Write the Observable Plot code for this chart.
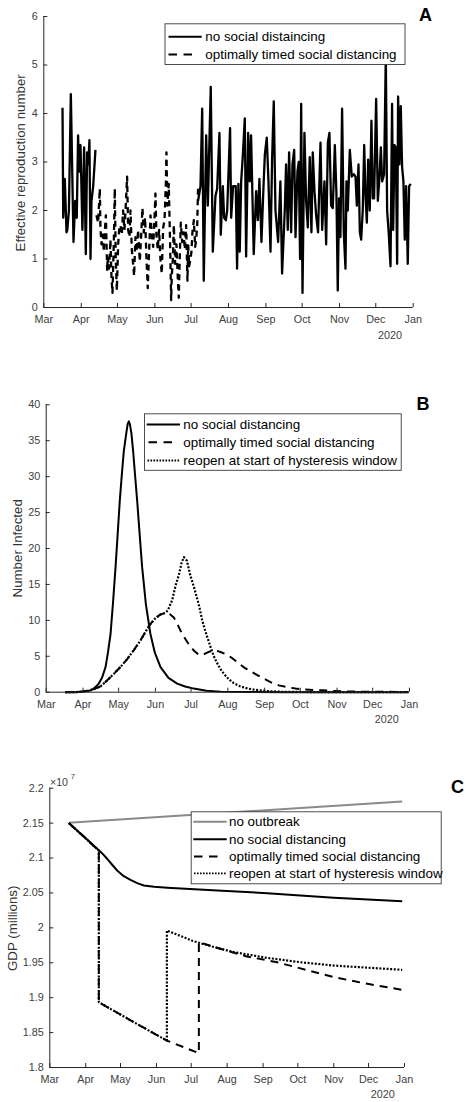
<!DOCTYPE html>
<html><head><meta charset="utf-8">
<script src="https://cdn.jsdelivr.net/npm/d3@7"></script>
<script src="https://cdn.jsdelivr.net/npm/@observablehq/plot@0.6"></script>
<style>
body{margin:0;background:#fff;}
#root{position:relative;width:466px;height:1102px;overflow:hidden;font-family:"Liberation Sans",Arial,sans-serif;background:#fff;}
#root svg{position:absolute;left:0;}
</style></head><body><div id="root"></div>
<script>
// ---------- shared axis data ----------
const monthLabels = ["Mar","Apr","May","Jun","Jul","Aug","Sep","Oct","Nov","Dec","Jan"];
const yearLabel = "2020";

// ---------- Panel A: effective reproduction number (day since Mar 1, value) ----------
const reTicks = [0,1,2,3,4,5,6];
const reNoSDEarly = [[15.5,4.12],[16.1,1.85],[17.4,2.65],[18.8,1.55],[19.5,1.6],[20.8,2.0],[22.4,4.4],[24.6,1.35],[26,2.2],[27.3,1.85],[28.4,3.55],[29.3,2.8],[30.4,3.35],[32,1.6],[33.4,3.3],[34.8,1.1],[35.9,3.2],[36.9,2.95],[37.8,3.45],[38.7,1.0],[39.5,2.2],[40.9,2.5],[42.8,3.25]];
const reNoSDLate = [[127.8,2.2],[129.8,2.5],[131.2,4.1],[132.5,0.55],[134.5,3.55],[135.9,2.1],[138.3,4.55],[140.0,1.15],[142.2,2.3],[143.6,2.45],[145.5,3.6],[146.6,1.5],[148.3,2.5],[149.4,1.85],[150.8,1.8],[151.9,2.0],[154.3,3.7],[155.2,1.85],[156.8,2.5],[157.9,2.5],[159.0,2.5],[160.1,0.8],[161.2,2.55],[162.3,1.15],[163.5,2.6],[164.8,3.1],[166.5,3.9],[167.6,1.05],[169.3,3.6],[170.6,2.6],[171.7,3.55],[173.9,1.1],[175.9,2.4],[177.3,1.8],[178.6,2.65],[180.3,1.35],[182.0,2.5],[183.1,3.15],[184.7,3.5],[186.1,2.6],[187.8,1.15],[189.1,3.05],[190.5,4.25],[191.9,2.0],[194.1,1.35],[196.0,2.6],[197.4,0.7],[199.6,2.0],[200.7,2.95],[202.1,1.6],[203.2,3.2],[204.9,1.55],[206.0,2.95],[207.4,3.25],[208.5,1.45],[210.1,2.8],[211.2,3.0],[212.3,1.0],[213.2,4.2],[214.3,0.3],[215.9,3.6],[217.3,2.2],[218.7,1.65],[220.3,3.1],[221.7,1.55],[222.8,3.2],[224.2,2.4],[225.6,1.9],[227.2,1.55],[229.2,3.4],[230.6,1.6],[232.5,2.6],[233.9,1.3],[235.3,3.4],[236.6,3.6],[238.0,2.1],[239.4,2.05],[241.1,3.35],[242.4,2.35],[243.5,0.35],[244.6,2.25],[245.7,1.45],[247.1,4.1],[248.5,1.55],[249.9,0.8],[250.7,2.6],[251.8,2.0],[253.5,3.25],[255.1,2.7],[256.8,2.75],[258.2,2.7],[259.3,2.1],[260.7,2.95],[261.8,1.55],[262.9,1.4],[264.2,2.0],[265.4,3.35],[266.5,2.3],[267.6,1.75],[268.7,3.05],[270.0,2.0],[271.4,3.85],[272.5,2.25],[273.6,2.25],[275.3,4.3],[276.7,2.2],[278.1,2.7],[279.2,3.3],[280.3,2.6],[281.9,2.75],[283.3,5.2],[284.4,2.0],[285.8,1.5],[287.2,0.85],[288.5,4.2],[289.4,1.6],[290.5,3.35],[291.6,3.3],[292.7,0.9],[293.5,4.35],[294.6,2.95],[295.7,4.15],[296.8,2.9],[297.9,2.6],[299.0,1.4],[300.1,2.5],[301.5,0.9],[302.6,2.5],[304.0,2.55]];
const reOptimal = [[43.6,1.9],[45.0,1.75],[46.4,2.45],[46.9,1.65],[47.8,1.3],[48.9,1.5],[49.7,1.15],[50.5,1.55],[51.4,1.9],[52.5,0.75],[53.0,1.05],[54.1,0.8],[55.2,1.4],[56.1,0.6],[56.9,0.3],[58.0,1.35],[58.8,2.45],[59.6,1.0],[60.5,0.35],[61.6,1.3],[62.4,1.6],[63.5,1.7],[64.6,1.5],[65.7,2.0],[66.8,1.6],[67.9,2.1],[69.0,2.7],[69.9,1.6],[71.0,1.45],[71.8,2.0],[72.9,1.2],[74.0,0.9],[74.8,0.65],[75.9,1.45],[77.0,1.15],[78.1,1.6],[79.5,0.95],[80.6,1.45],[81.7,2.05],[82.8,1.55],[83.9,1.85],[85.0,1.05],[86.1,0.4],[87.3,1.2],[88.4,1.9],[89.5,1.5],[90.6,1.25],[91.7,1.85],[92.5,2.35],[93.3,1.5],[94.4,1.2],[95.5,1.6],[96.6,1.0],[97.7,0.7],[98.9,1.65],[100.0,1.8],[101.1,2.55],[101.6,3.2],[102.4,2.1],[103.5,2.55],[104.6,1.35],[105.5,0.15],[106.0,0.65],[106.9,1.0],[107.7,1.7],[108.8,0.9],[109.9,1.3],[111.0,0.6],[111.8,0.2],[112.7,1.1],[113.5,1.75],[114.6,1.35],[115.7,1.55],[116.8,1.2],[117.9,1.7],[119.0,0.55],[119.6,1.3],[120.4,0.85],[121.5,1.0],[122.3,1.15],[123.1,1.55],[124.3,1.8],[125.4,1.25],[126.2,1.4],[127.1,1.7],[127.8,2.5]];

// ---------- Panel B: number infected ----------
const infTicks = [0,5,10,15,20,25,30,35,40];
const infNoSD = [[16,0],[25,0.01],[30,0.05],[34,0.15],[37.3,0.25],[40,0.5],[42,0.8],[44.3,1.2],[47,2.0],[50,3.5],[52,5.5],[54.2,8.1],[56.3,12.5],[58.4,17.4],[60.2,22],[62,26.7],[63.8,30.5],[65.4,33.6],[67.4,36],[68.6,37.3],[69.6,37.7],[70.6,37.2],[71.8,36],[73.2,33.6],[74.8,30.3],[76.6,26.7],[78.7,22],[80.8,17.4],[84,12.2],[87.8,8.1],[91.5,5.5],[96.3,3.5],[103,2.0],[110.3,1.2],[117,0.8],[124.3,0.5],[135,0.2],[146.8,0.08],[170,0.02],[200,0.005],[305,0]];
const infOptimal = [[16,0],[25,0.02],[30,0.08],[35,0.2],[40,0.42],[45.7,0.8],[51,1.6],[57,2.56],[62.5,3.5],[68.2,4.6],[74,5.9],[79.4,7.2],[84,8.5],[87.8,9.5],[92,10.3],[96,10.8],[100.5,11.05],[104,10.9],[107.5,10.4],[111,9.3],[114.5,8.1],[118,7.2],[121.5,6.3],[125,5.7],[128,5.3],[130.5,5.15],[133,5.3],[136,5.55],[139.8,5.8],[143,5.8],[146.8,5.6],[152.5,5.2],[157,4.7],[160.9,4.2],[167,3.4],[174.9,2.65],[182,2.0],[188.9,1.4],[196,0.95],[203,0.7],[210,0.5],[217,0.4],[225,0.3],[232.5,0.27],[240,0.18],[250,0.12],[265,0.08],[285,0.05],[305,0.03]];
const infReopen = [[16,0],[25,0.02],[30,0.08],[35,0.2],[40,0.42],[45.7,0.8],[51,1.6],[57,2.56],[62.5,3.5],[68.2,4.6],[74,5.9],[79.4,7.2],[84,8.5],[87.8,9.5],[92,10.3],[96,10.8],[100.5,11.05],[102.5,11.4],[104,12.0],[106.1,12.8],[108.9,14.8],[111.7,16.3],[114,18.0],[116,18.8],[118.5,18.3],[121.5,16.2],[124.5,14.6],[127.2,13],[129.5,11.5],[131.4,10],[133.5,8.8],[135.6,7.7],[138.4,6.3],[141.2,5.0],[143.5,4.2],[146.8,3.2],[150,2.5],[153.8,1.8],[158,1.25],[163.6,0.8],[170,0.5],[175,0.35],[186,0.15],[200,0.05],[230,0.01],[305,0]];

// ---------- Panel C: GDP (millions, in units of 1e7) ----------
const gdpTicks = [1.8,1.85,1.9,1.95,2,2.05,2.1,2.15,2.2];
const gdpTickLabels = ["1.8","1.85","1.9","1.95","2","2.05","2.1","2.15","2.2"];
const gdpNoOutbreak = [[16.4,2.1504],[304,2.181]];
const gdpNoSD = [[16.4,2.150],[30,2.1296],[40.9,2.1132],[45,2.107],[49.5,2.0989],[54,2.09],[58.1,2.0821],[63.8,2.074],[69.6,2.0688],[75.4,2.064],[81.1,2.0607],[90,2.0588],[101.3,2.0574],[144.4,2.0535],[187.5,2.0496],[245,2.043],[304,2.0382]];
const gdpOptimal = [[16.4,2.150],[30,2.1296],[42.3,2.1105],[42.3,1.8935],[70,1.8672],[101,1.8385],[128.6,1.8205],[128.6,1.9795],[144,1.9715],[170,1.959],[196,1.9508],[245,1.9294],[274,1.9198],[304,1.9112]];
const gdpReopen = [[16.4,2.150],[30,2.1296],[42.3,2.1105],[42.3,1.8935],[70,1.8672],[101,1.8385],[101,1.9962],[108,1.9915],[115.6,1.9866],[123,1.9815],[131.5,1.9772],[147.3,1.970],[158.8,1.9652],[187.5,1.957],[216,1.9508],[245,1.946],[304,1.9399]];

// ---------- helpers ----------
const DAY = 864e5, T0 = Date.UTC(2020, 2, 1);
const toDate = d => new Date(T0 + d * DAY);
const xDomain = [new Date(T0), new Date(Date.UTC(2021, 0, 1))];
const monthTicks = d3.utcMonth.range(new Date(T0), new Date(Date.UTC(2021, 0, 2)));
const rows = (pairs, seg = 0) => pairs.map(([d, v]) => ({date: toDate(d), v, seg}));
const FONT = '"Liberation Sans", Arial, sans-serif';
const TICKC = "#404040", AXC = "#262626";
const root = document.getElementById("root");

function panel({top, height, mt, mb, ml, mr, yDomain, yTicks, yLabels, series}) {
  const plotH = height - mt - mb, plotW = 466 - ml - mr;
  const svg = Plot.plot({
    width: 466, height, marginTop: mt, marginBottom: mb, marginLeft: ml, marginRight: mr,
    style: {fontFamily: FONT, fontSize: "10.8px", background: "transparent", overflow: "visible"},
    x: {type: "utc", domain: xDomain, label: null},
    y: {domain: yDomain, label: null},
    marks: [
      ...series.map(s => Plot.line(s.data, {x: "date", y: "v", z: "seg", stroke: s.stroke, strokeWidth: s.width,
        strokeDasharray: s.dash, strokeLinecap: s.cap || "butt", strokeLinejoin: "round", curve: "linear"})),
      Plot.ruleX([xDomain[0]], {stroke: AXC, strokeWidth: 1}),
      Plot.ruleY([yDomain[0]], {stroke: AXC, strokeWidth: 1}),
      Plot.tickX(monthTicks, {x: d => d, insetTop: plotH - 4, stroke: AXC}),
      Plot.tickY(yTicks, {y: d => d, insetRight: plotW - 4, stroke: AXC}),
      Plot.axisX({ticks: monthTicks, tickSize: 0, tickPadding: 8, fontSize: 10.8, fill: TICKC,
        tickFormat: d => monthLabels[monthTicks.findIndex(m => +m === +d)]}),
      Plot.axisY({ticks: yTicks, tickSize: 0, tickPadding: 6, fontSize: 10.8, fill: TICKC,
        tickFormat: d => yLabels[yTicks.indexOf(d)]})
    ]
  });
  svg.style.top = top + "px";
  root.appendChild(svg);
}

const solid = (data, w = 2) => ({data, stroke: "#000", width: w});
const dashed = (data, w = 2, dash = "8,6") => ({data, stroke: "#000", width: w, dash});
const dotted = (data, w = 2.2) => ({data, stroke: "#000", width: w, dash: "2,1.6"});

panel({top: 0, height: 360, mt: 16, mb: 53, ml: 43.3, mr: 53.3, yDomain: [0, 6], yTicks: reTicks,
  yLabels: reTicks.map(String),
  series: [
    dashed(rows(reOptimal), 2.3, "6,4.5"),
    solid([...rows(reNoSDEarly, 0), ...rows(reNoSDLate, 1)], 2.3)
  ]});

panel({top: 360, height: 370, mt: 44.3, mb: 38.3, ml: 45.7, mr: 57, yDomain: [0, 40], yTicks: infTicks,
  yLabels: infTicks.map(String),
  series: [solid(rows(infNoSD), 2), dashed(rows(infOptimal), 2), dotted(rows(infReopen), 2.2)]});

panel({top: 730, height: 372, mt: 57.7, mb: 35, ml: 49.3, mr: 62, yDomain: [1.8, 2.2], yTicks: gdpTicks,
  yLabels: gdpTickLabels,
  series: [
    {data: rows(gdpNoOutbreak), stroke: "#8a8a8a", width: 2},
    dotted(rows(gdpReopen), 2.2),
    dashed(rows(gdpOptimal), 2),
    solid(rows(gdpNoSD), 2)
  ]});

// ---------- overlay: labels and legends ----------
const ov = d3.select(root).append("svg").attr("width", 466).attr("height", 1102)
  .style("top", "0px").style("font-family", FONT);

function txt(x, y, s, o = {}) {
  return ov.append("text").attr("x", x).attr("y", y).text(s)
    .attr("font-size", o.size || 10.8).attr("fill", o.fill || TICKC)
    .attr("font-weight", o.weight || "normal").attr("text-anchor", o.anchor || "start");
}
function ylabel(x, y, s) {
  ov.append("text").attr("transform", `translate(${x},${y}) rotate(-90)`).attr("text-anchor", "middle")
    .attr("dy", "0.35em").attr("font-size", 13.3).attr("fill", "#333").text(s);
}

// panel letters
txt(419, 20.7, "A", {size: 18, weight: "bold", fill: "#000"});
txt(416.5, 410, "B", {size: 18, weight: "bold", fill: "#000"});
txt(451, 793.3, "C", {size: 18, weight: "bold", fill: "#000"});
// year labels
txt(390, 339, yearLabel, {anchor: "middle"});
txt(386.7, 723, yearLabel, {anchor: "middle"});
txt(382.7, 1098.3, yearLabel, {anchor: "middle"});
// exponent
txt(50, 785.7, "×10", {size: 10.6});
txt(70.8, 779.3, "7", {size: 7.6});
// y labels
ylabel(20.5, 162.8, "Effective reproduction number");
ylabel(17.2, 548.3, "Number Infected");
ylabel(12.8, 928.3, "GDP (millions)");

function legend(box, items, ys, sx1, sx2, tx) {
  ov.append("rect").attr("x", box[0] + 0.5).attr("y", box[1] + 0.5)
    .attr("width", box[2] - box[0]).attr("height", box[3] - box[1])
    .attr("fill", "#fff").attr("stroke", "#3a3a3a").attr("stroke-width", 0.9);
  items.forEach((it, i) => {
    const l = ov.append("line").attr("x1", it.x1 ?? sx1).attr("x2", it.x2 ?? sx2).attr("y1", ys[i]).attr("y2", ys[i])
      .attr("stroke", it.stroke || "#000").attr("stroke-width", it.width || 2)
      .attr("stroke-linecap", it.cap || "butt");
    if (it.dash) l.attr("stroke-dasharray", it.dash);
    ov.append("text").attr("x", tx).attr("y", ys[i]).attr("dy", "0.35em").attr("font-size", 13.4)
      .attr("fill", "#000").text(it.label);
  });
}

legend([164.5, 23.3, 404.5, 64], [
  {label: "no social distaincing"},
  {label: "optimally timed social distancing", dash: "8.5,6.5", x2: 193}
], [36.7, 54.5], 168.5, 201.7, 205.3);

legend([144, 413.3, 400.7, 469.8], [
  {label: "no social distancing"},
  {label: "optimally timed social distancing", dash: "8.5,6.5", x1: 148.5, x2: 176},
  {label: "reopen at start of hysteresis window", dash: "1.6,1.4", width: 1.8, x1: 147.5, x2: 180}
], [424.6, 442.3, 460.5], 146.7, 180, 183.3);

legend([190.7, 811.3, 440.7, 883.3], [
  {label: "no outbreak", stroke: "#8a8a8a"},
  {label: "no social distancing"},
  {label: "optimally timed social distancing", dash: "8.5,6.5", x1: 194, x2: 220},
  {label: "reopen at start of hysteresis window", dash: "1.6,1.4", width: 1.8, x1: 194, x2: 226.7}
], [821.7, 839.2, 856.5, 873.3], 193.3, 226.7, 229);
</script></body></html>
